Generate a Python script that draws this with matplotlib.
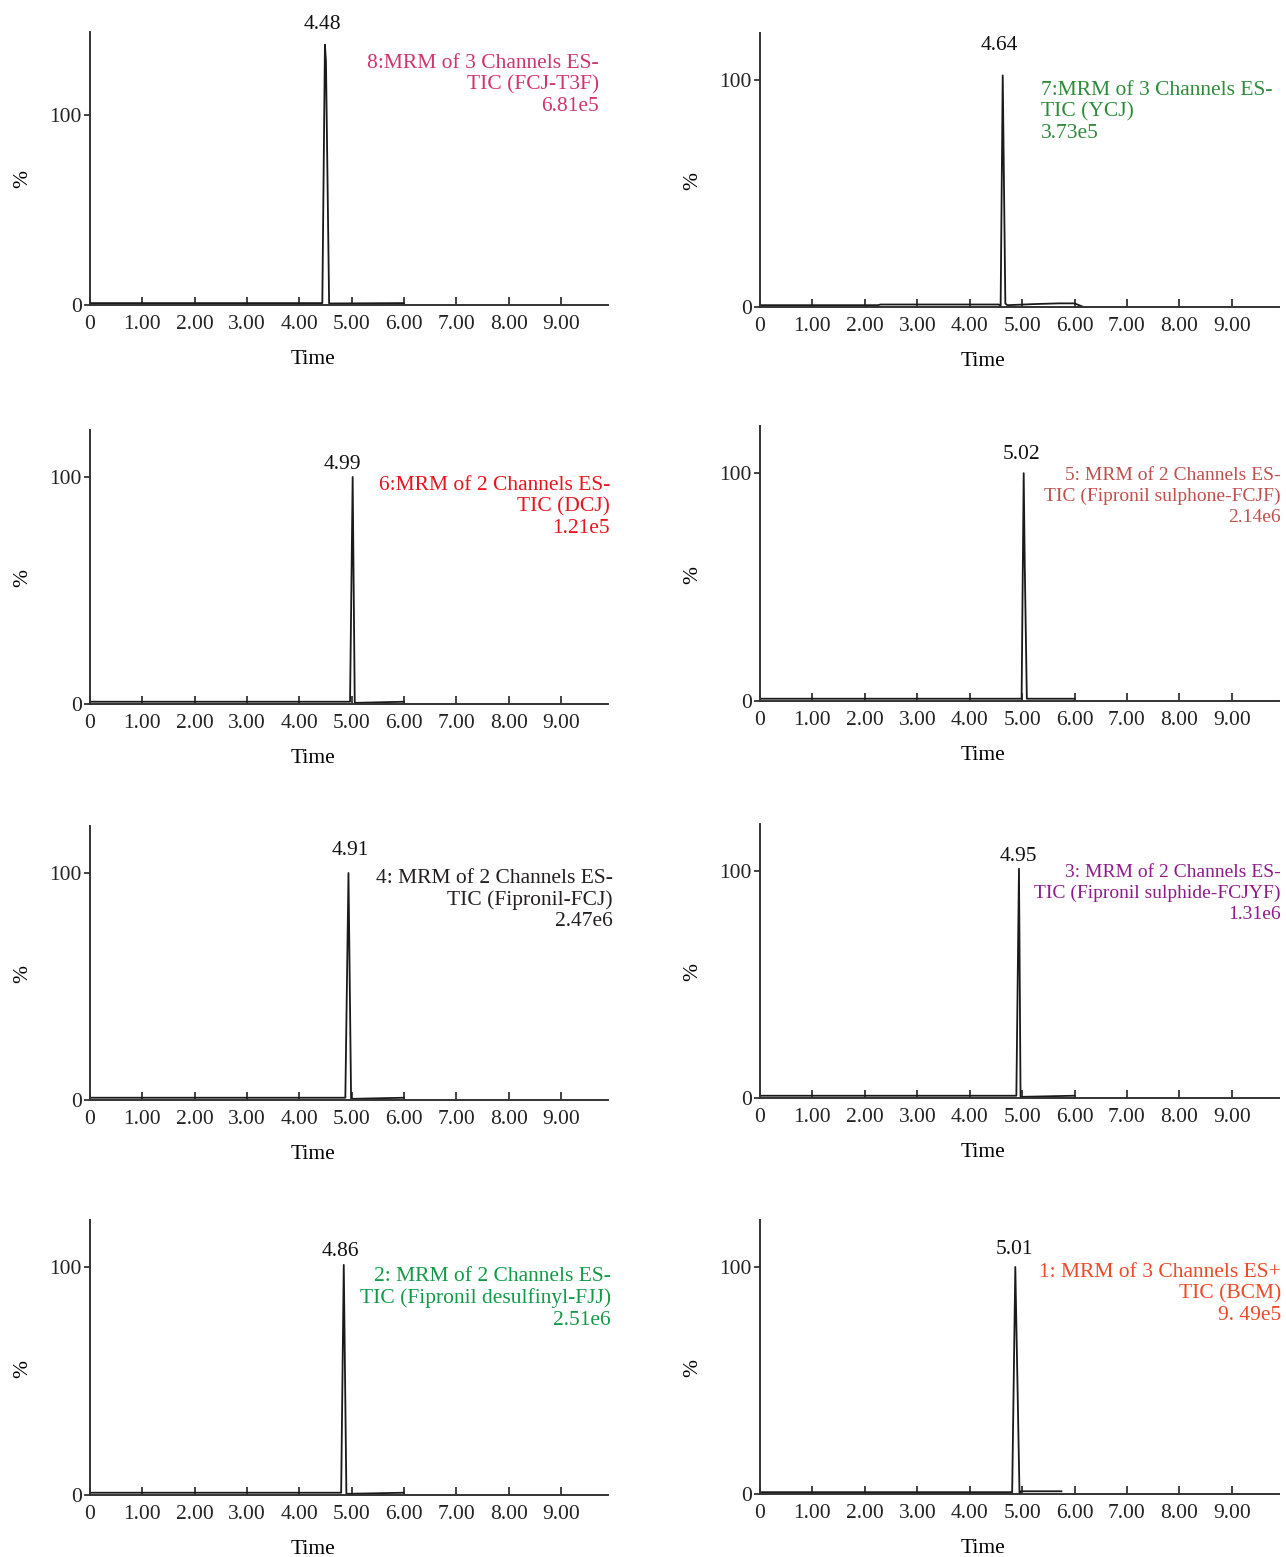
import matplotlib
matplotlib.use("Agg")
import matplotlib.pyplot as plt

plt.rcParams['font.family'] = ['Liberation Serif', 'DejaVu Serif']

# chromatogram traces (time, %), panel order = row by row
t8 = [0, 4.44, 4.49, 4.51, 4.57, 6.0]
y8 = [1.0, 1.0, 137, 128, 0.8, 1.0]
t7 = [0, 2.25, 2.3, 4.55, 4.59, 4.63, 4.68, 4.72, 5.25, 5.7, 6.0, 6.15]
y7 = [0.8, 0.8, 1.1, 1.1, 0.6, 102, 1.5, 0.8, 1.3, 1.6, 1.6, 0.2]
t6 = [0, 4.97, 5.02, 5.06, 6.0]
y6 = [1.0, 1.0, 100, 0.5, 1.0]
t5 = [0, 4.99, 5.03, 5.05, 5.09, 6.0]
y5 = [1.0, 1.0, 100, 60, 1.0, 1.0]
t4 = [0, 4.88, 4.94, 4.99, 6.0]
y4 = [1.0, 1.0, 100, 0.5, 1.0]
t3 = [0, 4.89, 4.94, 4.97, 6.0]
y3 = [1.0, 1.0, 101, 0.5, 1.0]
t2 = [0, 4.80, 4.85, 4.90, 6.0]
y2 = [1.0, 1.0, 101, 0.5, 1.0]
t1 = [0, 4.81, 4.87, 4.95, 4.98, 5.75]
y1 = [0.8, 0.8, 100, 0.4, 1.2, 1.2]

times = [t8, t7, t6, t5, t4, t3, t2, t1]
percents = [y8, y7, y6, y5, y4, y3, y2, y1]

peak_labels = ["4.48", "4.64", "4.99", "5.02", "4.91", "4.95", "4.86", "5.01"]
info_texts = [
    "8:MRM of 3 Channels ES-\nTIC (FCJ-T3F)\n6.81e5",
    "7:MRM of 3 Channels ES-\nTIC (YCJ)\n3.73e5",
    "6:MRM of 2 Channels ES-\nTIC (DCJ)\n1.21e5",
    "5: MRM of 2 Channels ES-\nTIC (Fipronil sulphone-FCJF)\n2.14e6",
    "4: MRM of 2 Channels ES-\nTIC (Fipronil-FCJ)\n2.47e6",
    "3: MRM of 2 Channels ES-\nTIC (Fipronil sulphide-FCJYF)\n1.31e6",
    "2: MRM of 2 Channels ES-\nTIC (Fipronil desulfinyl-FJJ)\n2.51e6",
    "1: MRM of 3 Channels ES+\nTIC (BCM)\n9. 49e5",
]
info_colors = ["#d0346e", "#2e8b3a", "#e8141e", "#c0504d",
               "#231f20", "#8e1b8c", "#129a48", "#ee4a2a"]
# the two long labels are set narrower in the reference
info_sizes = [15.5, 15.5, 15.5, 14, 15.5, 14, 15.5, 15.5]

xticks = [0, 1, 2, 3, 4, 5, 6, 7, 8, 9]
xticklabels = ["0", "1.00", "2.00", "3.00", "4.00", "5.00", "6.00", "7.00", "8.00", "9.00"]
y_top = [143.7, 120.7, 120.7, 120.7, 120.7, 120.7, 120.7, 120.7]

# layout in pixels: axes boxes (left, top, right, bottom)
W, H = 1286, 1557
boxes = [(90, 32, 608, 305), (760, 33, 1279, 307),
         (90, 430, 608, 704), (760, 426, 1279, 701),
         (90, 826, 608, 1100), (760, 824, 1279, 1098),
         (90, 1220, 608, 1495), (760, 1220, 1279, 1494)]
# info text anchor (x, top y, alignment)
info_pos = [(599, 54, 'right'), (1041, 81, 'left'),
            (610, 476, 'right'), (1281, 467, 'right'),
            (613, 869, 'right'), (1281, 864, 'right'),
            (611, 1267, 'right'), (1281, 1263, 'right')]
label_off = [20, 30, 12, 19, 22, 12, 13, 17]
label_dx = [-2, -3, -10, -2, 2, -1, -3, -1]

fig = plt.figure(figsize=(W / 100, H / 100), dpi=100)

for i in range(8):
    l, t, r, b = boxes[i]
    ax = fig.add_axes([l / W, 1 - b / H, (r - l) / W, (b - t) / H])
    ax.plot(times[i], percents[i], color='#1a1a1a', lw=1.3)
    ax.set_xlim(0, 9.9)
    ax.set_ylim(0, y_top[i])
    for s in ['top', 'right']:
        ax.spines[s].set_visible(False)
    for s in ['left', 'bottom']:
        ax.spines[s].set_color('#333333')
        ax.spines[s].set_linewidth(1.4)
    ax.set_xticks(xticks)
    ax.set_xticklabels(xticklabels)
    ax.set_yticks([0, 100])
    ax.set_yticklabels(["0", "100"])
    ax.tick_params(axis='x', direction='in', length=6, width=1.2, pad=7,
                   labelsize=15.5, colors='#222222')
    ax.tick_params(axis='y', direction='out', length=4, width=1.2, pad=2,
                   labelsize=15.5, colors='#222222')
    ax.set_xlabel("Time", fontsize=15.5)
    ax.xaxis.set_label_coords(0.43, -0.165)
    ax.set_ylabel("%", fontsize=15.5)
    ax.yaxis.set_label_coords(-0.112, 0.46)

    # peak retention time label
    k = percents[i].index(max(percents[i]))
    ax.annotate(peak_labels[i], (times[i][k], percents[i][k]),
                xytext=(label_dx[i], label_off[i]), textcoords='offset pixels',
                ha='center', va='center', fontsize=15.5, color='#111111')

    px, py, al = info_pos[i]
    fig.text(px / W, 1 - py / H, info_texts[i], ha=al, va='top',
             multialignment=al, fontsize=info_sizes[i], color=info_colors[i],
             linespacing=1.16 * 15.5 / info_sizes[i])

fig.savefig("out.png", dpi=100)
